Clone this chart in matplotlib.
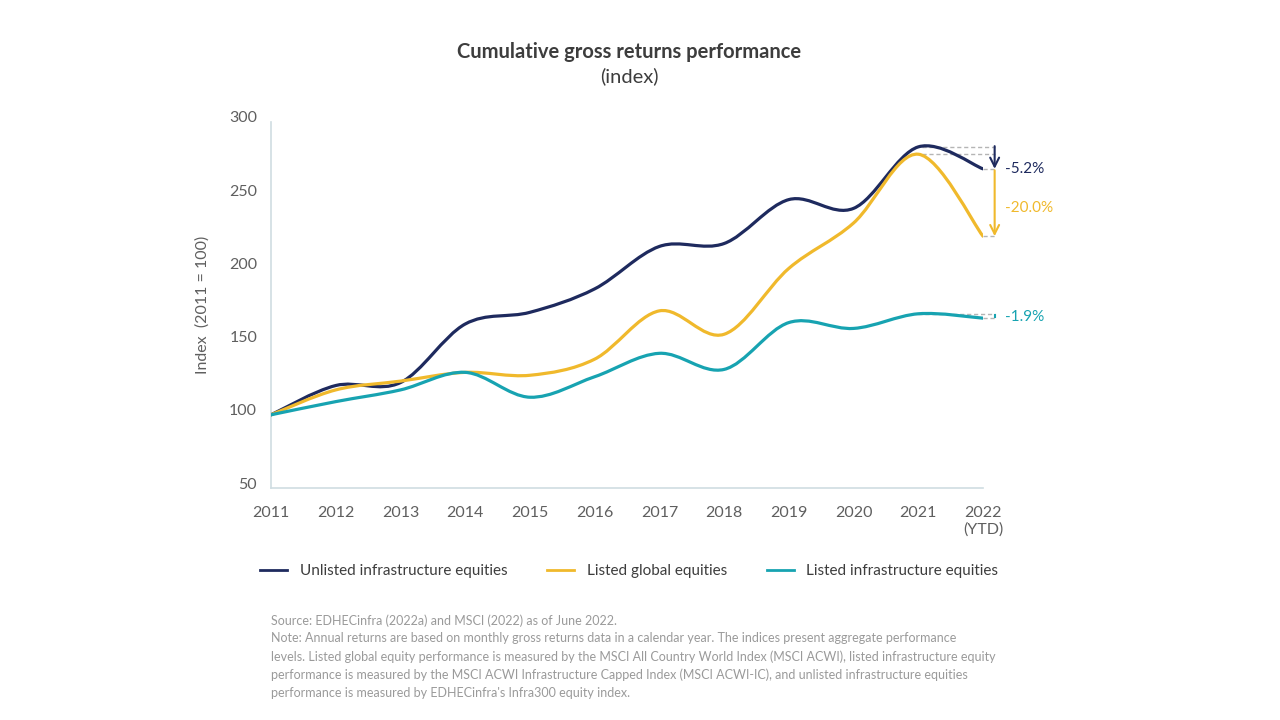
import matplotlib.pyplot as plt
from matplotlib.path import Path
from matplotlib.patches import PathPatch
from matplotlib.lines import Line2D
from matplotlib.transforms import ScaledTranslation

plt.rcParams["font.family"] = ["Lato", "DejaVu Sans"]

years = [2011, 2012, 2013, 2014, 2015, 2016, 2017, 2018, 2019, 2020, 2021, 2022]
year_labels = ["2011", "2012", "2013", "2014", "2015", "2016", "2017", "2018",
               "2019", "2020", "2021", "2022\n(YTD)"]
unlisted_infra = [100, 120, 122, 162, 170, 186, 215, 217, 247, 241, 283, 268]
listed_global = [100, 117, 123, 129, 127, 138, 171, 155, 200, 231, 278, 222]
listed_infra = [100, 109, 117, 129, 112, 126, 142, 131, 163, 159, 169, 166]
drops = ["-5.2%", "-20.0%", "-1.9%"]
series_names = ["Unlisted infrastructure equities", "Listed global equities",
                "Listed infrastructure equities"]

NAVY = "#1e2a5e"
GOLD = "#f0b92c"
TEAL = "#17a3b1"
GREY = "#5f5f5f"


def smooth_path(xs, ys, tension=6.0):
    # Catmull-Rom style cubic bezier through the data points
    verts = [(xs[0], ys[0])]
    codes = [Path.MOVETO]
    n = len(xs)
    for i in range(n - 1):
        x0, y0 = (xs[i - 1], ys[i - 1]) if i > 0 else (xs[i], ys[i])
        x1, y1 = xs[i], ys[i]
        x2, y2 = xs[i + 1], ys[i + 1]
        x3, y3 = (xs[i + 2], ys[i + 2]) if i + 2 < n else (x2, y2)
        c1 = (x1 + (x2 - x0) / tension, y1 + (y2 - y0) / tension)
        c2 = (x2 - (x3 - x1) / tension, y2 - (y3 - y1) / tension)
        verts += [c1, c2, (x2, y2)]
        codes += [Path.CURVE4] * 3
    return Path(verts, codes)


fig = plt.figure(figsize=(12.8, 7.2), dpi=100)
ax = fig.add_axes([271 / 1280, 1 - 488 / 720, (983 - 271) / 1280, (488 - 122) / 720])

colors = [NAVY, GOLD, TEAL]
for ys, c in zip([unlisted_infra, listed_global, listed_infra], colors):
    ax.add_patch(PathPatch(smooth_path(years, ys), facecolor="none",
                           edgecolor=c, lw=2.3, capstyle="round", zorder=3))

ax.set_xlim(2011, 2022)
ax.set_ylim(50, 300)
ax.set_xticks(years)
ax.set_xticklabels(year_labels, color=GREY, fontsize=11.5)
ax.set_yticks([50, 100, 150, 200, 250, 300])
ax.tick_params(axis="both", length=0, labelsize=11.5, labelcolor=GREY)
ax.tick_params(axis="x", pad=13)
ax.tick_params(axis="y", pad=10)
for lab in ax.get_yticklabels():
    lab.set_transform(lab.get_transform() + ScaledTranslation(0, 0.05, fig.dpi_scale_trans))
for s in ["top", "right"]:
    ax.spines[s].set_visible(False)
for s in ["left", "bottom"]:
    ax.spines[s].set_color("#cfdde2")
    ax.spines[s].set_linewidth(1.2)
ax.set_ylabel("Index  (2011 = 100)", color=GREY, fontsize=11.5, labelpad=14)

# drop annotations
xa = 2022.18
dash = dict(color="#b5b5b5", lw=1, ls=(0, (3, 2)), clip_on=False, zorder=2)
nav_peak, nav_end = unlisted_infra[-2], unlisted_infra[-1]
gold_peak, gold_end = listed_global[-2], listed_global[-1]
teal_peak, teal_end = listed_infra[-2], listed_infra[-1]
ax.plot([2021.05, xa], [nav_peak, nav_peak], **dash)
ax.plot([2021.05, xa], [gold_peak, gold_peak], **dash)
ax.plot([2021.0, xa], [teal_peak, teal_peak], **dash)
ax.plot([2022.0, xa], [nav_end, nav_end], **dash)
ax.plot([2022.0, xa], [gold_end, gold_end], **dash)
ax.plot([2022.0, xa], [teal_end, teal_end], **dash)

ax.annotate("", xy=(xa, nav_end), xytext=(xa, nav_peak + 0.5),
            arrowprops=dict(arrowstyle="->", color=NAVY, lw=1.5,
                            mutation_scale=16, shrinkA=0, shrinkB=0),
            annotation_clip=False)
ax.annotate("", xy=(xa, gold_end), xytext=(xa, nav_end - 1),
            arrowprops=dict(arrowstyle="->", color=GOLD, lw=1.5,
                            mutation_scale=16, shrinkA=0, shrinkB=0),
            annotation_clip=False)
ax.plot([xa, xa], [teal_peak - 0.5, teal_end + 1], color=TEAL, lw=1.5, clip_on=False)

ax.text(xa + 0.16, nav_end, drops[0], color=NAVY, fontsize=11, va="center",
        clip_on=False)
ax.text(xa + 0.16, (nav_end + gold_end) / 2 - 4, drops[1], color=GOLD, fontsize=11,
        va="center", clip_on=False)
ax.text(xa + 0.16, teal_end + 1, drops[2], color=TEAL, fontsize=11, va="center",
        clip_on=False)

# title
fig.text(0.4915, 1 - 52 / 720, "Cumulative gross returns performance", ha="center",
         va="center", fontsize=14.5, fontweight="bold", color="#3d3d3d")
fig.text(0.4915, 1 - 76 / 720, "(index)", ha="center", va="center",
         fontsize=14.5, color="#3d3d3d")

# legend
handles = [Line2D([], [], color=c, lw=2) for c in colors]
fig.legend(handles, series_names, loc="center", bbox_to_anchor=(0.4915, 1 - 571 / 720),
           ncol=3, frameon=False, fontsize=11, labelcolor="#3d3d3d",
           handlelength=1.8, handletextpad=0.8, columnspacing=2.6)

note = ("Source: EDHECinfra (2022a) and MSCI (2022) as of June 2022.\n"
        "Note: Annual returns are based on monthly gross returns data in a calendar year. "
        "The indices present aggregate performance\n"
        "levels. Listed global equity performance is measured by the MSCI All Country "
        "World Index (MSCI ACWI), listed infrastructure equity\n"
        "performance is measured by the MSCI ACWI Infrastructure Capped Index (MSCI ACWI-IC), "
        "and unlisted infrastructure equities\n"
        "performance is measured by EDHECinfra's Infra300 equity index.")
fig.text(271 / 1280, 1 - 614 / 720, note, ha="left", va="top", fontsize=9.0,
         color="#9a9a9a", linespacing=1.57)

fig.savefig("out.png", dpi=100, facecolor="white")
